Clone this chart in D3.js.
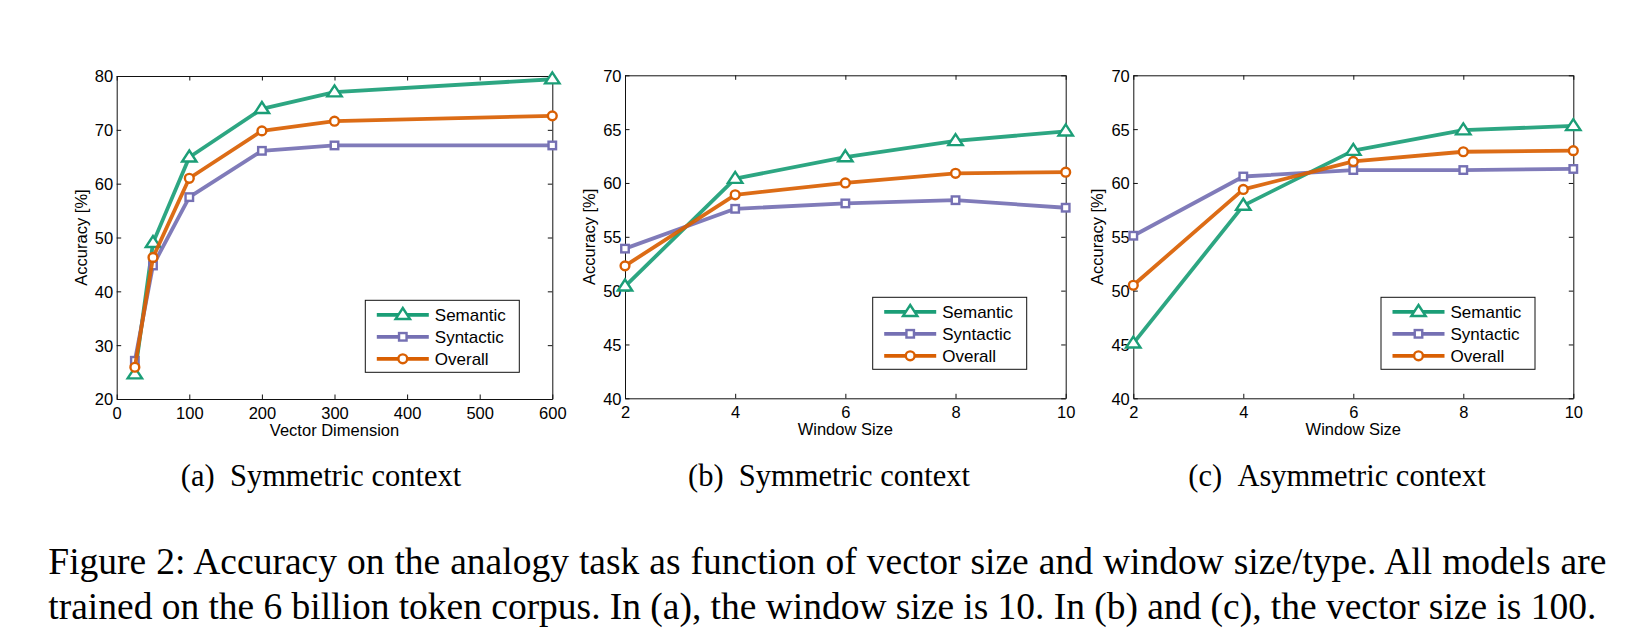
<!DOCTYPE html>
<html>
<head>
<meta charset="utf-8">
<script src="https://cdn.jsdelivr.net/npm/d3@7"></script>
<style>
  html, body { margin: 0; padding: 0; background: #fff; }
  svg { display: block; }
</style>
</head>
<body>
<svg id="fig" width="1628" height="638"></svg>
<script>
// ---------------- DATA ----------------
const seriesNames = ["Semantic", "Syntactic", "Overall"];

// (a) Symmetric context, vector dimension
const vecDims = [25, 50, 100, 200, 300, 600];
const aSemantic  = [24.6, 49.0, 64.9, 73.9, 77.0, 79.4];
const aSyntactic = [27.1, 44.8, 57.5, 66.1, 67.1, 67.1];
const aOverall   = [25.9, 46.3, 61.0, 69.8, 71.6, 72.6];

// (b) Symmetric context, window size
const winSizes = [2, 4, 6, 8, 10];
const bSemantic  = [50.4, 60.4, 62.4, 63.9, 64.8];
const bSyntactic = [53.9, 57.6, 58.1, 58.4, 57.7];
const bOverall   = [52.3, 58.9, 60.0, 60.9, 61.0];

// (c) Asymmetric context, window size
const cSemantic  = [45.1, 57.9, 63.0, 64.9, 65.3];
const cSyntactic = [55.1, 60.6, 61.2, 61.2, 61.3];
const cOverall   = [50.5, 59.4, 62.0, 62.9, 63.0];

const xTicksA = [0, 100, 200, 300, 400, 500, 600];
const yTicksA = [20, 30, 40, 50, 60, 70, 80];
const xTicksBC = [2, 4, 6, 8, 10];
const yTicksBC = [40, 45, 50, 55, 60, 65, 70];

const subCaptions = ["(a)\u2002Symmetric context", "(b)\u2002Symmetric context", "(c)\u2002Asymmetric context"];
const captionLines = [
  "Figure 2: Accuracy on the analogy task as function of vector size and window size/type. All models are",
  "trained on the 6 billion token corpus. In (a), the window size is 10. In (b) and (c), the vector size is 100."
];

// ---------------- STYLE / LAYOUT ----------------
const colors = { Semantic: "#1b9e77", Syntactic: "#7570b3", Overall: "#d95f02" };
const markers = { Semantic: "triangle", Syntactic: "square", Overall: "circle" };

const panels = [
  { box: [116.7, 76, 552.3, 399], xDomain: [0, 600], yDomain: [20, 80], xTicks: xTicksA, yTicks: yTicksA,
    xs: vecDims, ys: [aSemantic, aSyntactic, aOverall], xLabel: "Vector Dimension",
    legend: [365.3, 300.3], capX: 321 },
  { box: [625, 75.3, 1065.7, 398.3], xDomain: [2, 10], yDomain: [40, 70], xTicks: xTicksBC, yTicks: yTicksBC,
    xs: winSizes, ys: [bSemantic, bSyntactic, bOverall], xLabel: "Window Size",
    legend: [872.7, 297.3], capX: 829 },
  { box: [1133.3, 75.3, 1573.3, 398.3], xDomain: [2, 10], yDomain: [40, 70], xTicks: xTicksBC, yTicks: yTicksBC,
    xs: winSizes, ys: [cSemantic, cSyntactic, cOverall], xLabel: "Window Size",
    legend: [1381, 297.3], capX: 1337 }
];

const svg = d3.select("#fig");
const sansFont = "'Liberation Sans', Arial, Helvetica, sans-serif";
const serifFont = "'Liberation Serif', 'Times New Roman', Times, serif";

function drawMarker(g, type, x, y, color) {
  if (type === "triangle") {
    const w = 7.2, h = 11;
    g.append("path")
      .attr("d", `M${x},${y - h * 0.62} L${x + w},${y + h * 0.38} L${x - w},${y + h * 0.38} Z`)
      .attr("fill", "#fff").attr("stroke", color).attr("stroke-width", 2.4)
      .attr("stroke-linejoin", "miter");
  } else if (type === "square") {
    const s = 6.5;
    g.append("rect").attr("x", x - s / 2 - 0.5).attr("y", y - s / 2 - 0.5)
      .attr("width", s + 1).attr("height", s + 1)
      .attr("fill", "#fff").attr("stroke", color).attr("stroke-width", 2.4);
  } else {
    g.append("circle").attr("cx", x).attr("cy", y).attr("r", 4.4)
      .attr("fill", "#fff").attr("stroke", color).attr("stroke-width", 2.4);
  }
}

panels.forEach((p, pi) => {
  const [x0, y0, x1, y1] = p.box;
  const x = d3.scaleLinear().domain(p.xDomain).range([x0, x1]);
  const y = d3.scaleLinear().domain(p.yDomain).range([y1, y0]);
  const g = svg.append("g");

  const tickLen = 4.5;
  const bottom = g.append("g").attr("transform", `translate(0,${y1})`)
    .call(d3.axisBottom(x).tickValues(p.xTicks).tickSizeInner(-tickLen).tickSizeOuter(0).tickPadding(8));
  const left = g.append("g").attr("transform", `translate(${x0},0)`)
    .call(d3.axisLeft(y).tickValues(p.yTicks).tickSizeInner(-tickLen).tickSizeOuter(0).tickPadding(3.5));
  const top = g.append("g").attr("transform", `translate(0,${y0})`)
    .call(d3.axisTop(x).tickValues(p.xTicks).tickSizeInner(-tickLen).tickSizeOuter(0).tickFormat(""));
  const right = g.append("g").attr("transform", `translate(${x1},0)`)
    .call(d3.axisRight(y).tickValues(p.yTicks).tickSizeInner(-tickLen).tickSizeOuter(0).tickFormat(""));

  [bottom, left, top, right].forEach(a => {
    a.selectAll(".domain").attr("stroke", "#111").attr("stroke-width", 1);
    a.selectAll(".tick line").attr("stroke", "#111").attr("stroke-width", 1);
    a.selectAll("text").attr("font-family", sansFont).attr("font-size", 16.5).attr("fill", "#000");
  });
  bottom.selectAll("text").attr("dy", "0.71em");
  left.selectAll("text").attr("dy", "0.36em");

  g.append("text")
    .attr("x", (x0 + x1) / 2).attr("y", y1 + 37)
    .attr("text-anchor", "middle")
    .attr("font-family", sansFont).attr("font-size", 16.5)
    .text(p.xLabel);
  g.append("text")
    .attr("transform", `translate(${x0 - 30},${(y0 + y1) / 2}) rotate(-90)`)
    .attr("text-anchor", "middle")
    .attr("font-family", sansFont).attr("font-size", 16.5)
    .text("Accuracy [%]");

  const line = d3.line().x(d => x(d[0])).y(d => y(d[1]));
  seriesNames.forEach((name, si) => {
    const pts = p.xs.map((xv, i) => [xv, p.ys[si][i]]);
    g.append("path").datum(pts)
      .attr("d", line)
      .attr("fill", "none").attr("stroke", colors[name])
      .attr("stroke-width", 3.8).attr("stroke-linejoin", "round").attr("stroke-opacity", 0.92);
    const mg = g.append("g");
    pts.forEach(d => drawMarker(mg, markers[name], x(d[0]), y(d[1]), colors[name]));
  });

  const [lx, ly] = p.legend;
  const lg = g.append("g").attr("transform", `translate(${lx},${ly})`);
  lg.append("rect").attr("width", 154).attr("height", 72)
    .attr("fill", "#fff").attr("stroke", "#111").attr("stroke-width", 1);
  seriesNames.forEach((name, si) => {
    const yy = 14.5 + si * 22;
    lg.append("line").attr("x1", 11.5).attr("x2", 63.5).attr("y1", yy).attr("y2", yy)
      .attr("stroke", colors[name]).attr("stroke-width", 3.8);
    drawMarker(lg, markers[name], 37.5, yy, colors[name]);
    lg.append("text").attr("x", 69.5).attr("y", yy + 6)
      .attr("font-family", sansFont).attr("font-size", 17).attr("fill", "#000")
      .text(name);
  });

  svg.append("text")
    .attr("x", p.capX).attr("y", 486)
    .attr("text-anchor", "middle")
    .attr("font-family", serifFont).attr("font-size", 30.5).attr("fill", "#000")
    .attr("xml:space", "preserve")
    .text(subCaptions[pi]);
});

// Figure caption (both lines fitted to the measured widths)
const capTargets = [1558, 1548];
const capY = [574, 619];
captionLines.forEach((t, i) => {
  const txt = svg.append("text")
    .attr("x", 48.3).attr("y", capY[i])
    .attr("font-family", serifFont).attr("font-size", 37.5).attr("fill", "#000")
    .text(t);
  const w = txt.node().getComputedTextLength();
  const spaces = (t.match(/ /g) || []).length;
  txt.attr("word-spacing", (capTargets[i] - w) / spaces);
});
</script>
</body>
</html>
